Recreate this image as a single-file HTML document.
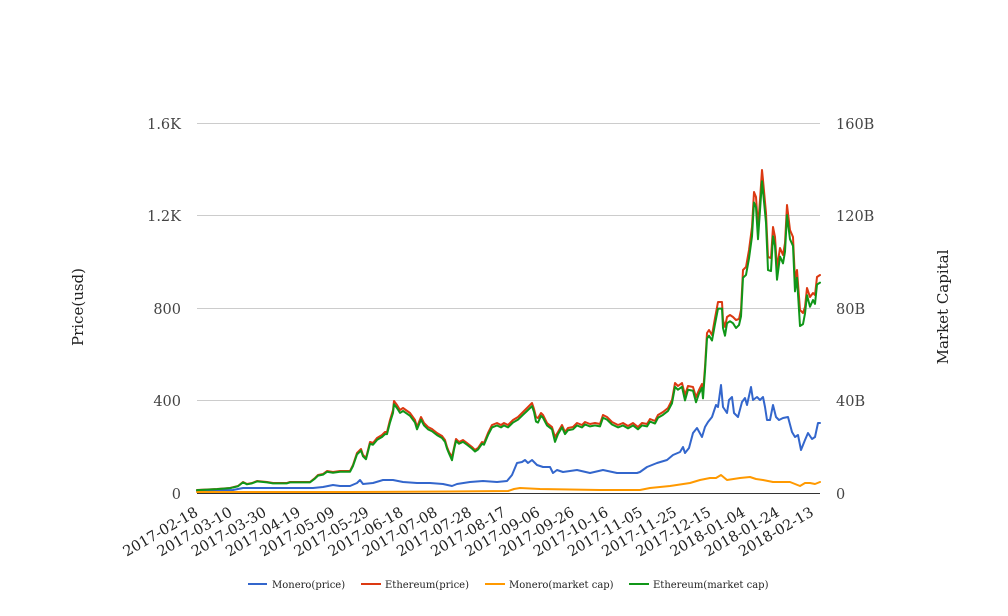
<!DOCTYPE html>
<html>
<head>
<meta charset="utf-8">
<style>
html,body{margin:0;padding:0;background:#fff;}
svg{display:block;}
text{font-family:"DejaVu Serif","Liberation Serif",serif;}
</style>
</head>
<body>
<svg width="1008" height="616" viewBox="0 0 1008 616" xmlns="http://www.w3.org/2000/svg">
<rect width="1008" height="616" fill="#fff"/>
<!-- gridlines -->
<g stroke="#cccccc" stroke-width="1">
<line x1="197" y1="123.5" x2="820" y2="123.5"/>
<line x1="197" y1="215.5" x2="820" y2="215.5"/>
<line x1="197" y1="308.5" x2="820" y2="308.5"/>
<line x1="197" y1="400.5" x2="820" y2="400.5"/>
</g>
<!-- left ticks -->
<g font-size="14.5" fill="#444" text-anchor="end">
<text x="181" y="129">1.6K</text>
<text x="181" y="221">1.2K</text>
<text x="181" y="314">800</text>
<text x="181" y="406">400</text>
<text x="181" y="499">0</text>
</g>
<!-- right ticks -->
<g font-size="14.5" fill="#444" text-anchor="start">
<text x="836" y="129">160B</text>
<text x="836" y="221">120B</text>
<text x="836" y="314">80B</text>
<text x="836" y="406">40B</text>
<text x="836" y="499">0</text>
</g>
<!-- axis titles -->
<text font-size="15" fill="#222" text-anchor="middle" transform="translate(83,307) rotate(-90)">Price(usd)</text>
<text font-size="15" fill="#222" text-anchor="middle" transform="translate(948,307) rotate(-90)">Market Capital</text>
<!-- x labels -->
<g font-size="14.5" fill="#222" text-anchor="end">
<text transform="translate(199,515) rotate(-30)">2017-02-18</text>
<text transform="translate(233.2,515) rotate(-30)">2017-03-10</text>
<text transform="translate(267.4,515) rotate(-30)">2017-03-30</text>
<text transform="translate(301.6,515) rotate(-30)">2017-04-19</text>
<text transform="translate(335.8,515) rotate(-30)">2017-05-09</text>
<text transform="translate(370,515) rotate(-30)">2017-05-29</text>
<text transform="translate(404.2,515) rotate(-30)">2017-06-18</text>
<text transform="translate(438.4,515) rotate(-30)">2017-07-08</text>
<text transform="translate(472.6,515) rotate(-30)">2017-07-28</text>
<text transform="translate(506.8,515) rotate(-30)">2017-08-17</text>
<text transform="translate(541,515) rotate(-30)">2017-09-06</text>
<text transform="translate(575.2,515) rotate(-30)">2017-09-26</text>
<text transform="translate(609.4,515) rotate(-30)">2017-10-16</text>
<text transform="translate(643.6,515) rotate(-30)">2017-11-05</text>
<text transform="translate(677.8,515) rotate(-30)">2017-11-25</text>
<text transform="translate(712,515) rotate(-30)">2017-12-15</text>
<text transform="translate(746.2,515) rotate(-30)">2018-01-04</text>
<text transform="translate(780.4,515) rotate(-30)">2018-01-24</text>
<text transform="translate(814.6,515) rotate(-30)">2018-02-13</text>
</g>
<!-- series -->
<g fill="none" stroke-width="2" stroke-linejoin="round" stroke-linecap="round">
<polyline stroke="#3366cc" points="197,491 233,490 243,488 313,488 323,487 333,485 340,486 350,486 357,483 360,480 363,484 373,483 383,480 393,480 403,482 417,483 430,483 443,484 452,486 457,484 470,482 483,481 497,482 507,481 512,475 517,463 522,462 525,460 528,463 532,460 537,465 543,467 550,467 553,473 557,470 563,472 577,470 590,473 603,470 617,473 637,473 640,472 647,467 657,463 667,460 673,455 680,452 683,447 685,453 689,448 693,433 697,428 702,437 705,427 708,422 712,417 716,405 718,407 721,385 723,407 727,413 729,400 732,397 734,413 738,417 742,402 745,398 747,405 751,387 753,400 757,397 760,400 763,397 765,407 767,420 770,420 773,405 776,417 779,420 783,418 788,417 792,432 795,437 798,435 801,450 805,440 808,433 812,439 815,437 818,423 820,423"/>
<polyline stroke="#dc3912" points="197,490 217,489 230,488 238,486 243,482 247,484 252,483 257,481 267,482 273,483 287,483 290,482 310,482 315,478 318,475 323,474 327,471 333,472 340,471 350,471 353,465 357,453 361,449 363,455 366,458 370,442 373,443 377,438 382,435 385,432 387,432 390,420 393,410 394,401 397,405 400,410 403,408 410,413 415,420 417,427 421,417 424,423 428,427 432,429 437,433 442,436 445,440 447,447 449,452 452,457 454,448 456,439 459,442 463,440 467,443 472,447 475,450 478,448 482,442 484,443 488,433 492,425 497,423 501,425 504,423 508,425 513,420 518,417 523,412 527,408 532,403 534,409 536,417 538,418 541,413 543,415 547,423 552,427 555,437 558,432 562,425 565,432 568,428 573,427 577,423 582,425 585,422 590,424 595,423 600,424 603,415 607,417 612,422 618,425 623,423 628,426 633,423 638,427 642,423 647,424 650,419 655,421 658,415 663,412 668,408 672,400 675,383 678,386 682,383 685,395 688,386 693,387 696,397 699,390 702,384 703,393 705,367 707,333 709,330 712,335 715,318 718,302 722,302 723,320 725,327 727,317 730,315 733,317 736,320 739,319 741,310 743,270 746,267 749,250 752,227 754,192 756,197 758,227 760,200 762,170 763,180 766,213 768,257 771,258 773,227 775,237 777,268 780,248 783,255 785,243 787,205 790,230 793,237 795,280 797,270 800,310 803,313 805,307 807,288 810,297 813,293 815,295 817,277 820,275"/>
<polyline stroke="#ff9900" points="197,492 350,492 450,491.5 508,491 514,489 520,488 540,489 600,490 640,490 650,488 670,486 690,483 700,480 710,478 716,478 721,475 727,480 740,478 750,477 756,479 763,480 773,482 790,482 795,484 800,486 805,483 810,483 815,484 820,482"/>
<polyline stroke="#109618" vector-effect="non-scaling-stroke" transform="translate(0,493) scale(1,0.965) translate(0,-493)" points="197,490 217,489 230,488 238,486 243,482 247,484 252,483 257,481 267,482 273,483 287,483 290,482 310,482 315,478 318,475 323,474 327,471 333,472 340,471 350,471 353,465 357,453 361,449 363,455 366,458 370,442 373,443 377,438 382,435 385,432 387,432 390,420 393,410 394,401 397,405 400,410 403,408 410,413 415,420 417,427 421,417 424,423 428,427 432,429 437,433 442,436 445,440 447,447 449,452 452,459 454,448 456,439 459,442 463,440 467,443 472,447 475,450 478,448 482,442 484,443 488,433 492,425 497,423 501,425 504,423 508,425 513,420 518,417 523,412 527,408 532,403 534,409 536,419 538,420 541,413 543,415 547,423 552,427 555,440 558,432 562,425 565,432 568,428 573,427 577,423 582,425 585,422 590,424 595,423 600,424 603,415 607,417 612,422 618,425 623,423 628,426 633,423 638,427 642,423 647,424 650,419 655,421 658,415 663,412 668,408 672,400 675,383 678,386 682,383 685,397 688,386 693,387 696,399 699,390 702,384 703,395 705,367 707,333 709,330 712,335 715,318 718,302 722,302 723,322 725,330 727,317 730,315 733,317 736,322 739,319 741,310 743,270 746,267 749,250 752,227 754,192 756,197 758,230 760,200 762,170 763,180 766,213 768,262 771,263 773,227 775,237 777,272 780,248 783,255 785,243 787,205 790,230 793,237 795,284 797,270 800,320 803,318 805,307 807,288 810,300 813,293 815,297 817,277 820,275"/>
</g>
<!-- baseline -->
<line x1="197" y1="493.5" x2="820" y2="493.5" stroke="#333" stroke-width="1"/>
<!-- legend -->
<g stroke-width="2">
<line x1="248" y1="584" x2="267" y2="584" stroke="#3366cc"/>
<line x1="361" y1="584" x2="381" y2="584" stroke="#dc3912"/>
<line x1="485" y1="584" x2="505" y2="584" stroke="#ff9900"/>
<line x1="629" y1="584" x2="649" y2="584" stroke="#109618"/>
</g>
<g font-size="10" fill="#222">
<text x="272" y="588">Monero(price)</text>
<text x="385" y="588">Ethereum(price)</text>
<text x="509" y="588">Monero(market cap)</text>
<text x="653" y="588">Ethereum(market cap)</text>
</g>
</svg>
</body>
</html>
